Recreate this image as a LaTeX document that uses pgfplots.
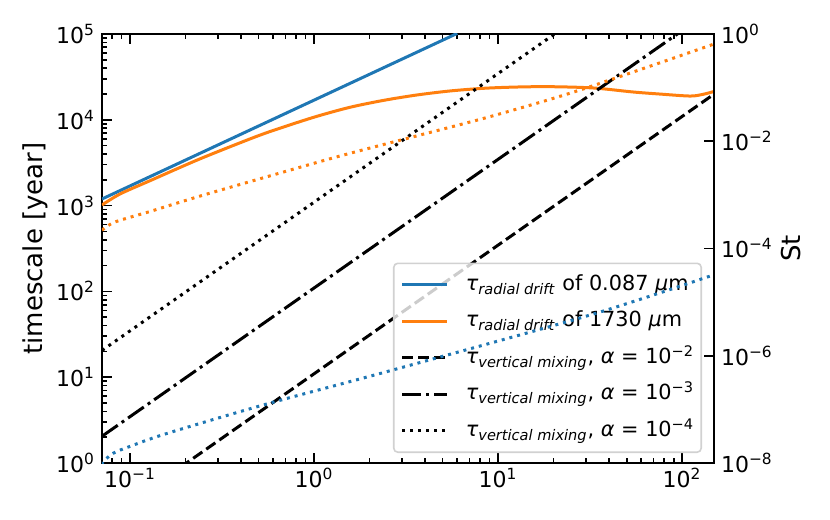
\documentclass[border=0pt]{standalone}
\usepackage{pgfplots}
\pgfplotsset{compat=1.18}
\usepackage{fontspec}
\setmainfont{DejaVu Sans}
\definecolor{tabblue}{HTML}{1F77B4}
\definecolor{taborange}{HTML}{FF7F0E}
\newcommand{\tp}[1]{10\textsuperscript{#1}}
\begin{document}
\begin{tikzpicture}
\begin{axis}[name=ax, scale only axis, width=306pt, height=214.5pt,
  xmode=log, ymode=log, xmin=0.0705, xmax=149, ymin=1, ymax=1e5,
  tick align=inside, ytick pos=left, xtick pos=both,
  xtick={0.1,1,10,100}, xticklabels={\tp{−1},\tp{0},\tp{1},\tp{2}},
  ytick={1,10,100,1000,10000,100000},
  yticklabels={\tp{0},\tp{1},\tp{2},\tp{3},\tp{4},\tp{5}},
  minor xtick={0.08,0.09,0.2,0.3,0.4,0.5,0.6,0.7,0.8,0.9,2,3,4,5,6,7,8,9,20,30,40,50,60,70,80,90},
  minor ytick={2,3,4,5,6,7,8,9,20,30,40,50,60,70,80,90,200,300,400,500,600,700,800,900,2000,3000,4000,5000,6000,7000,8000,9000,20000,30000,40000,50000,60000,70000,80000,90000},
  major tick length=5pt, minor tick length=2.5pt,
  tick style={black, line width=0.8pt},
  axis line style={line width=0.8pt},
  tick label style={font=\fontsize{11}{13}\selectfont},
  xticklabel style={yshift=1pt},
  ylabel={timescale [year]},
  ylabel style={at={(axis description cs:-0.1095,0.5)}, anchor=center, font=\fontsize{13}{15}\selectfont},
  legend cell align=left,
  legend image code/.code={\draw[#1] (0pt,0pt) -- (22.5pt,0pt);},
  legend style={draw=black!18, line width=0.8pt, rounded corners=2pt, fill=white, fill opacity=0.8, text opacity=1, draw opacity=1,
    at={(1,0)}, anchor=south east, xshift=-6pt, yshift=5pt,
    inner xsep=3.5pt, inner ysep=1.6pt, row sep=0pt,
    font=\fontsize{10.4}{12}\selectfont,
    nodes={inner xsep=0pt, inner ysep=3.375pt, text height=8.5pt, text depth=3pt},
    /tikz/every odd column/.append style={column sep=8.5pt}},
]
\addplot[tabblue, line width=1.5pt] coordinates {(0.0705,1194) (6,101640)};
\addlegendentry{\textit{τ}\textsubscript{\textit{radial drift}} of 0.087 \textit{μ}m}
\addplot[taborange, line width=1.5pt, smooth] coordinates {
 (0.0705,1016) (0.0883,1365) (0.1285,1950) (0.2404,3508) (0.4786,6310) (0.6808,8222)
 (1.0347,10965) (1.570,14000) (2.382,16830) (3.614,19450) (5.483,21680) (8.318,23280)
 (12.65,24100) (19.19,24320) (32.8,23500) (54.2,21090) (76.0,19950) (110.7,18920)
 (130,19820) (149,21380)};
\addlegendentry{\textit{τ}\textsubscript{\textit{radial drift}} of 1730 \textit{μ}m}
\addplot[black, line width=1.5pt, dash pattern=on 5.55pt off 2.4pt] coordinates {(0.0705,0.205) (149,19900)};
\addlegendentry{\textit{τ}\textsubscript{\textit{vertical mixing}}, \textit{α} = 10\textsuperscript{−2}}
\addplot[black, line width=1.5pt, dash pattern=on 9.6pt off 2.4pt on 1.5pt off 2.4pt] coordinates {(0.0705,2.05) (149,199000)};
\addlegendentry{\textit{τ}\textsubscript{\textit{vertical mixing}}, \textit{α} = 10\textsuperscript{−3}}
\addplot[black, line width=1.5pt, dash pattern=on 1.5pt off 2.475pt] coordinates {(0.0705,20.5) (149,1990000)};
\addlegendentry{\textit{τ}\textsubscript{\textit{vertical mixing}}, \textit{α} = 10\textsuperscript{−4}}
\end{axis}
\begin{axis}[scale only axis, width=306pt, height=214.5pt,
  xmode=log, ymode=log, xmin=0.0705, xmax=149, ymin=1e-8, ymax=1,
  axis x line=none, axis y line*=right, tick align=inside,
  ytick={1e-8,1e-6,1e-4,1e-2,1},
  yticklabels={\tp{−8},\tp{−6},\tp{−4},\tp{−2},\tp{0}},
  minor y tick style={draw=none},
  major tick length=5pt,
  tick style={black, line width=0.8pt},
  axis line style={line width=0.8pt},
  tick label style={font=\fontsize{11}{13}\selectfont},
  ylabel={St},
  ylabel style={at={(axis description cs:1.1258,0.5)}, anchor=center, rotate=0, font=\fontsize{13}{15}\selectfont},
]
\addplot[tabblue, line width=1.5pt, dash pattern=on 1.5pt off 2.475pt, smooth] coordinates {
 (0.0705,9.3e-9) (0.0716,1.06e-8) (0.0811,1.52e-8) (0.1,2.04e-8) (0.1585,3.55e-8)
 (0.553,1.26e-7) (2.588,5.25e-7) (31.62,5.75e-6) (149,3.24e-5)};
\addplot[taborange, line width=1.5pt, dash pattern=on 1.5pt off 2.475pt, smooth] coordinates {
 (0.0705,2.2e-4) (0.0811,3.03e-4) (0.1042,3.98e-4) (0.1285,4.9e-4) (0.2404,9.5e-4)
 (0.509,2.0e-3) (1.384,5.31e-3) (3.767,1.306e-2) (9.44,3.0e-2) (27.9,9.04e-2) (149,0.65)};
\end{axis}
\pgfresetboundingbox
\path[use as bounding box] ([xshift=-51pt,yshift=-28pt]ax.south west) rectangle ([xshift=58pt,yshift=17pt]ax.north east);
\end{tikzpicture}
\end{document}
